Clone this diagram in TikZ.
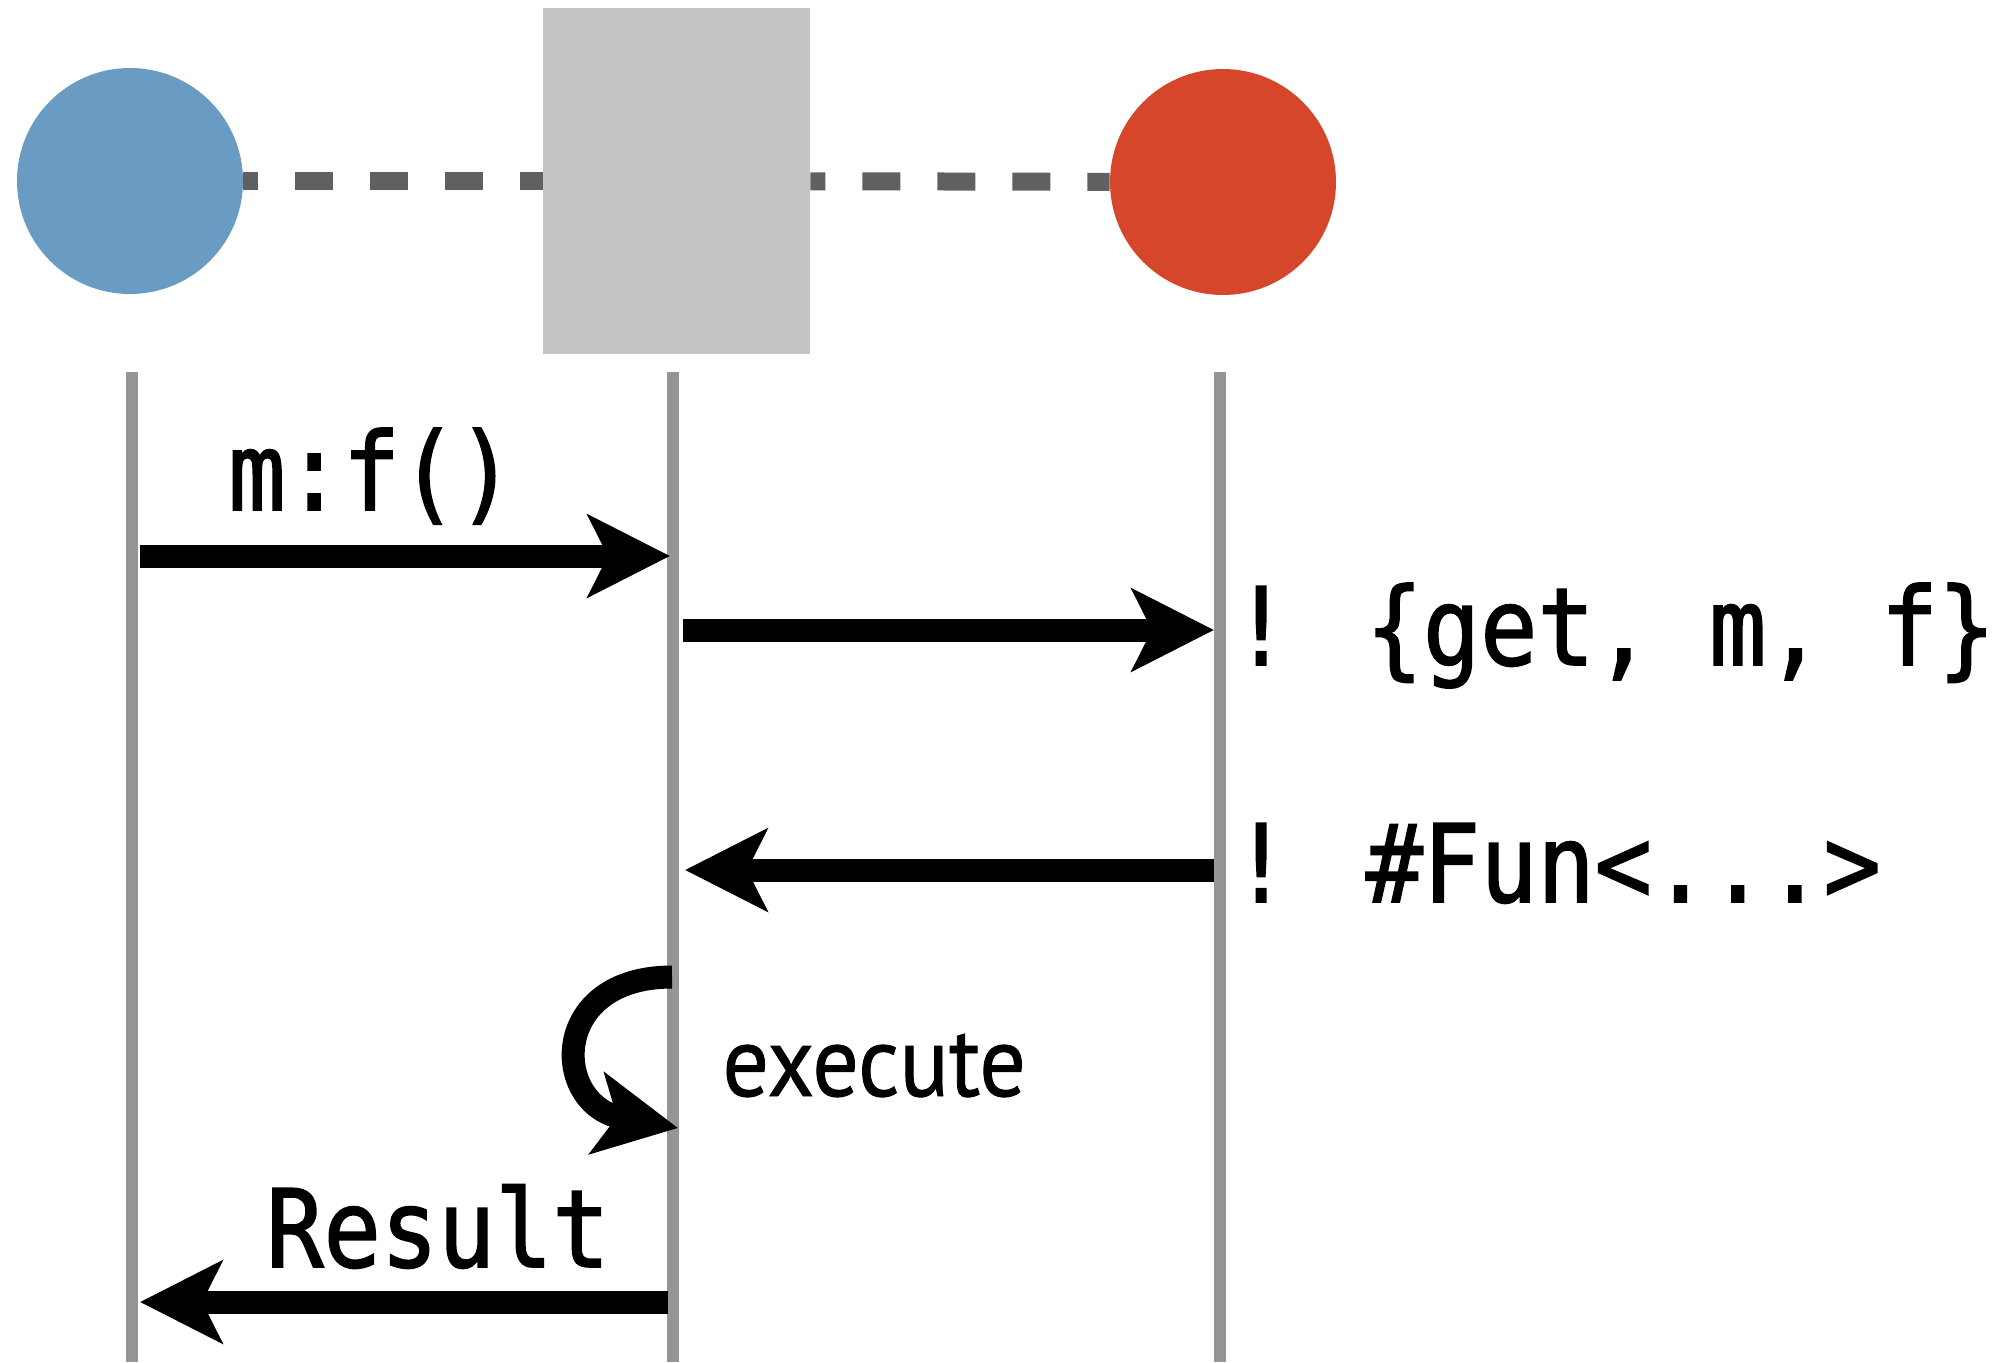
\documentclass[tikz,border=0pt]{standalone}
\usepackage{fontspec}
\usepackage{xcolor}
\usepackage{tikz}
\usetikzlibrary{arrows.meta}

\newfontfamily\codefont[FakeStretch=0.88, FakeBold=1.5]{DejaVu Sans Mono}
\newfontfamily\notefont[FakeStretch=0.92, FakeBold=0.8]{PT Sans}

\definecolor{clientblue}{HTML}{6A9BC3}
\definecolor{serverred}{HTML}{D6462A}
\definecolor{proxygray}{HTML}{C4C4C4}
\definecolor{linkgray}{HTML}{606060}
\definecolor{lifegray}{HTML}{959595}

\tikzset{
	actor/.style={circle, minimum size=113pt, inner sep=0pt},
	link/.style={linkgray, line width=9pt, dash pattern=on 19pt off 18.5pt, dash phase=11.5pt},
	lifeline/.style={lifegray, line width=6pt},
	call/.style={line width=11.5pt, -{Stealth[length=41pt, width=41pt, inset=10pt]}},
	msg/.style={font=\codefont\fontsize{54}{60}\selectfont, inner sep=0pt, anchor=base west},
	note/.style={font=\notefont\fontsize{50}{58}\selectfont, inner sep=0pt, anchor=base west}
}

\begin{document}
\begin{tikzpicture}[x=0.5pt, y=-0.5pt]
			\useasboundingbox (0,0) rectangle (2007,1362);

			% the three parties
			\node[actor, fill=clientblue] (client) at (130,181) {};
			\node[fill=proxygray, minimum width=133.5pt, minimum height=173pt, inner sep=0pt] (proxy) at (676.5,181) {};
			\node[actor, fill=serverred] (server) at (1223,182) {};

			\draw[link] (client) -- (proxy);
			\draw[link] (proxy) -- (server);

			% lifelines
			\foreach \n/\x in {c/131.5, p/673, s/1220}
			{
				\coordinate (\n top) at (\x,372);
				\coordinate (\n bot) at (\x,1362);
				\draw[lifeline] (\n top) -- (\n bot);
			}

			% messages
			\coordinate (callA) at (140,556);
			\coordinate (callB) at (670,556);
			\coordinate (getA) at (683,630);
			\coordinate (getB) at (1214,630);
			\coordinate (funA) at (1214,870);
			\coordinate (funB) at (685,870);
			\coordinate (loopA) at (672,977);
			\coordinate (loopB) at (678,1128);
			\coordinate (resA) at (668,1302);
			\coordinate (resB) at (140,1302);

			\draw[call] (callA) -- (callB);
			\draw[call] (getA) -- (getB);
			\draw[call] (funA) -- (funB);
			\draw[call] (loopA) .. controls (548,977) and (552,1105) .. (loopB);
			\draw[call] (resA) -- (resB);

			\node[msg] (callLabel) at (228,510) {m:f()};
			\node[msg] (getLabel) at (1232,665) {! \{get, m, f\}};
			\node[msg] (funLabel) at (1232,902) {! \#Fun<...>};
			\node[note] (execLabel) at (722,1096) {execute};
			\node[msg] (resLabel) at (266,1267) {Result};
		\end{tikzpicture}
\end{document}
